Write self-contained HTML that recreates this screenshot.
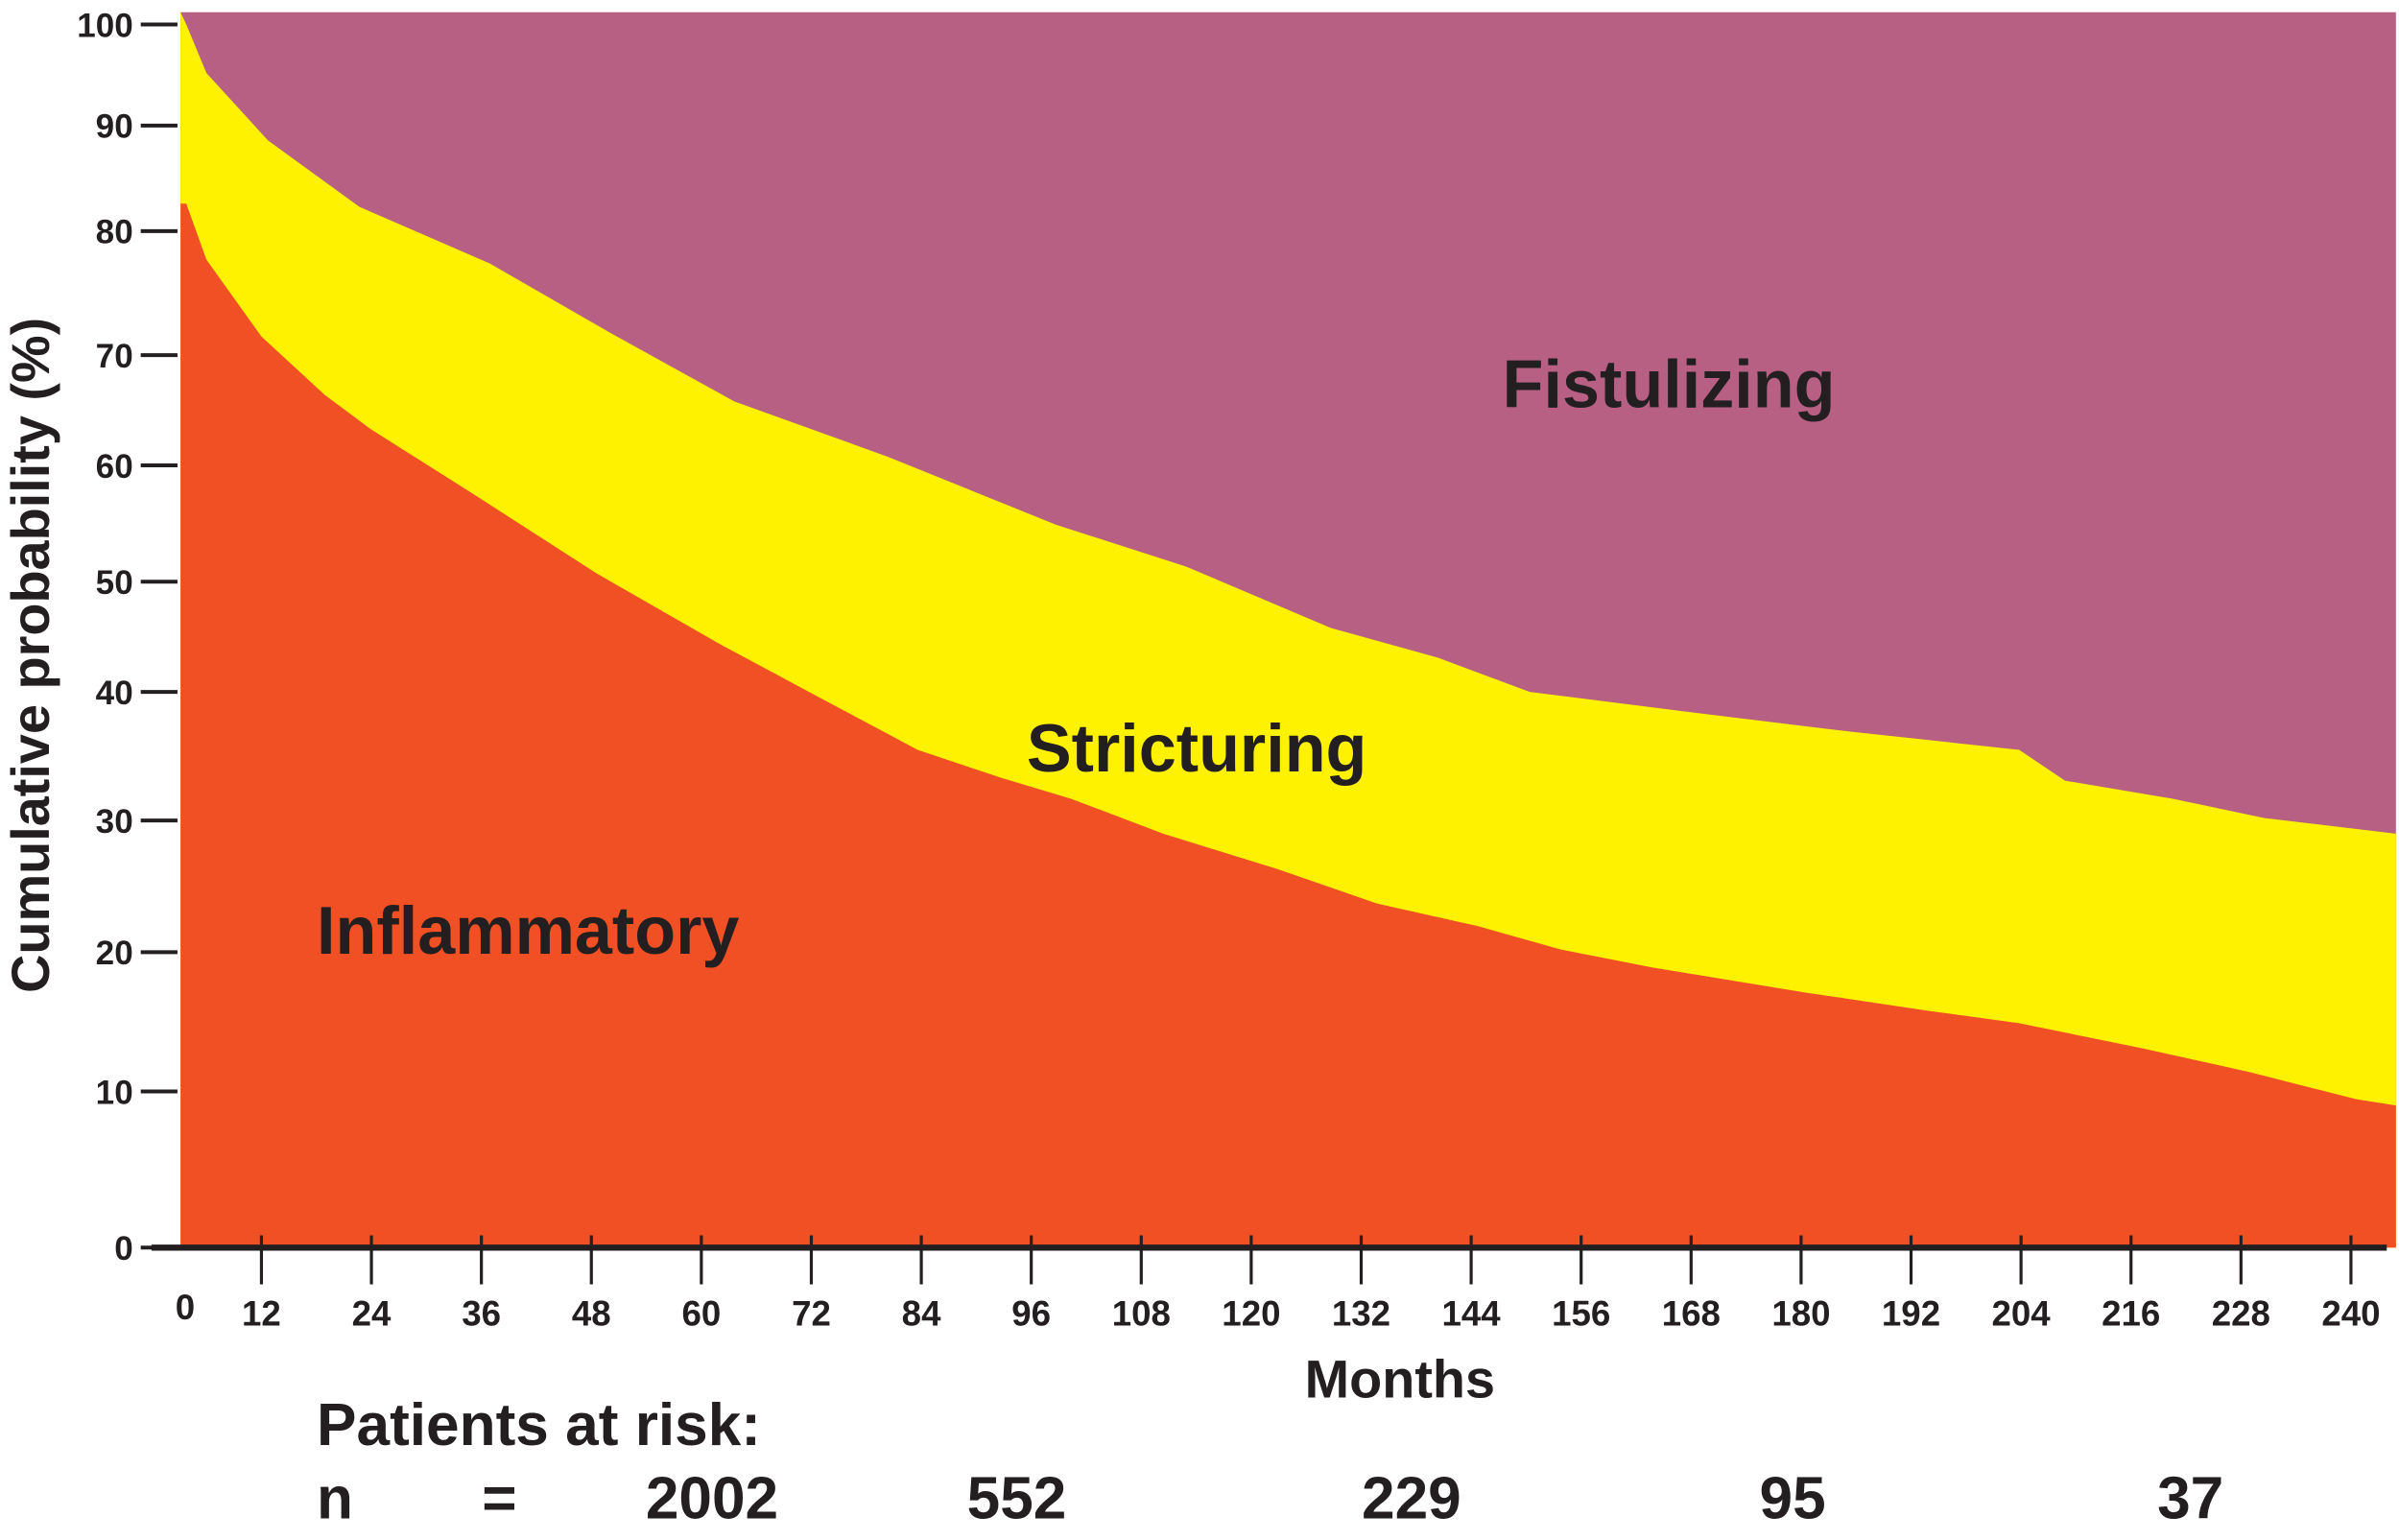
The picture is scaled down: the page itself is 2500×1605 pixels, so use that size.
<!DOCTYPE html>
<html><head><meta charset="utf-8"><style>
html,body{margin:0;padding:0;background:#fff;}
svg{display:block;}
text{font-family:"Liberation Sans",Arial,sans-serif;font-weight:bold;fill:#231f20;}
</style></head><body>
<svg id="chart" width="2500" height="1605" viewBox="0 0 1568 1006" preserveAspectRatio="none" xmlns="http://www.w3.org/2000/svg">
<g id="areas"></g>
<g id="axes"></g>
<text x="982" y="266" font-size="44">Fistulizing</text>
<text x="671" y="504" font-size="44">Stricturing</text>
<text x="207" y="623" font-size="44">Inflammatory</text>
<text transform="translate(32,428) rotate(-90)" text-anchor="middle" font-size="35">Cumulative probability (%)</text>
<text x="915" y="913" text-anchor="middle" font-size="35">Months</text>
<text x="207" y="944" font-size="39">Patients at risk:</text>
<g id="risk"></g>
</svg>
<script>
const months = [3.8, 6, 12, 18.9, 23.9, 34.4, 48.6, 61.9, 72.8, 83.6, 92.8, 100.3, 110.4, 122.9, 133.7, 144.6, 153.8, 163.8, 180.5, 193.8, 203.8, 217.2, 228.9, 240.6, 245.2];
const inflammatory = [82.6, 77.7, 71.5, 66.4, 63.3, 57.9, 50.7, 44.4, 39.6, 35.5, 33.3, 31.7, 29.0, 26.3, 23.7, 22.0, 20.2, 18.9, 17.1, 15.8, 14.9, 13.1, 11.4, 9.5, 9.1];
const strictMonths = [3.8, 6, 12.7, 22.7, 36.9, 50.3, 63.6, 80.3, 98.7, 112.9, 128.7, 140.4, 150.4, 167.1, 185.5, 203.8, 208.8, 220.5, 230.5, 245.2];
const stricturingTop = [100, 95.2, 88.6, 82.3, 77.4, 71.7, 65.8, 60.8, 54.9, 51.3, 45.8, 43.1, 40, 38.5, 36.9, 35.5, 33.1, 31.7, 30.2, 29.0];
const xTicks = [12,24,36,48,60,72,84,96,108,120,132,144,156,168,180,192,204,216,228,240];
const yTicks = [0,10,20,30,40,50,60,70,80,90,100];
const riskLabels = ["n","=","2002","552","229","95","37"];
const riskX = [207,315,422,632,890,1150,1410];

const NS="http://www.w3.org/2000/svg";
const X0=118, XR=1566, YB=815;
// hand-drawn axis: pixel position of each 10% gridline
const yAxisPx = [815,713,622,536,452,380,304,232,151,82,16];
const xs = m => 99 + 5.99*m;
const ys = v => { v=Math.max(0,Math.min(100,v)); const i=Math.min(9,Math.floor(v/10)); const f=(v-i*10)/10; return yAxisPx[i]+(yAxisPx[i+1]-yAxisPx[i])*f; };
function mk(tag, attrs, parent){const e=document.createElementNS(NS,tag);for(const k in attrs)e.setAttribute(k,attrs[k]);parent.appendChild(e);return e;}
const areas=document.getElementById('areas');
const axes=document.getElementById('axes');

const purple=mk('rect',{x:X0,y:8,width:XR-X0,height:YB-8,fill:'#b76083'},areas);



let d=`M${X0},${YB} L${X0},8`;
strictMonths.forEach((m,i)=>{d+=` L${Math.min(xs(m),XR)},${ys(stricturingTop[i])}`;});
d+=` L${XR},${YB} Z`;
const yel=mk('path',{d:d,fill:'#fff200'},areas);



d=`M${X0},${YB} L${X0},${ys(inflammatory[0])}`;
months.forEach((m,i)=>{d+=` L${Math.min(xs(m),XR)},${ys(inflammatory[i])}`;});
d+=` L${XR},${YB} Z`;
const red=mk('path',{d:d,fill:'#f05023'},areas);



const ax=mk('line',{x1:99,y1:YB,x2:1560,y2:YB,stroke:'#231f20','stroke-width':4},axes);



xTicks.forEach(t=>{
  const l=mk('line',{x1:xs(t),y1:YB-8,x2:xs(t),y2:YB+24,stroke:'#231f20','stroke-width':2},axes);
  
  
  const tx=mk('text',{x:xs(t),y:866,'text-anchor':'middle','font-size':23},axes);
  tx.textContent=t;
  
  
});
const z=mk('text',{x:121,y:862,'text-anchor':'middle','font-size':23},axes);
z.textContent='0';



yTicks.forEach(t=>{
  const l=mk('line',{x1:92,y1:ys(t),x2:116,y2:ys(t),stroke:'#231f20','stroke-width':2.5},axes);
  
  
  const tx=mk('text',{x:87,y:ys(t)+8,'text-anchor':'end','font-size':22},axes);
  tx.textContent=t;
  
  
});

const risk=document.getElementById('risk');
riskLabels.forEach((s,i)=>{
  const tx=mk('text',{x:riskX[i],y:992,'font-size':39},risk);
  tx.textContent=s;
  
  
});
</script>
</body></html>
